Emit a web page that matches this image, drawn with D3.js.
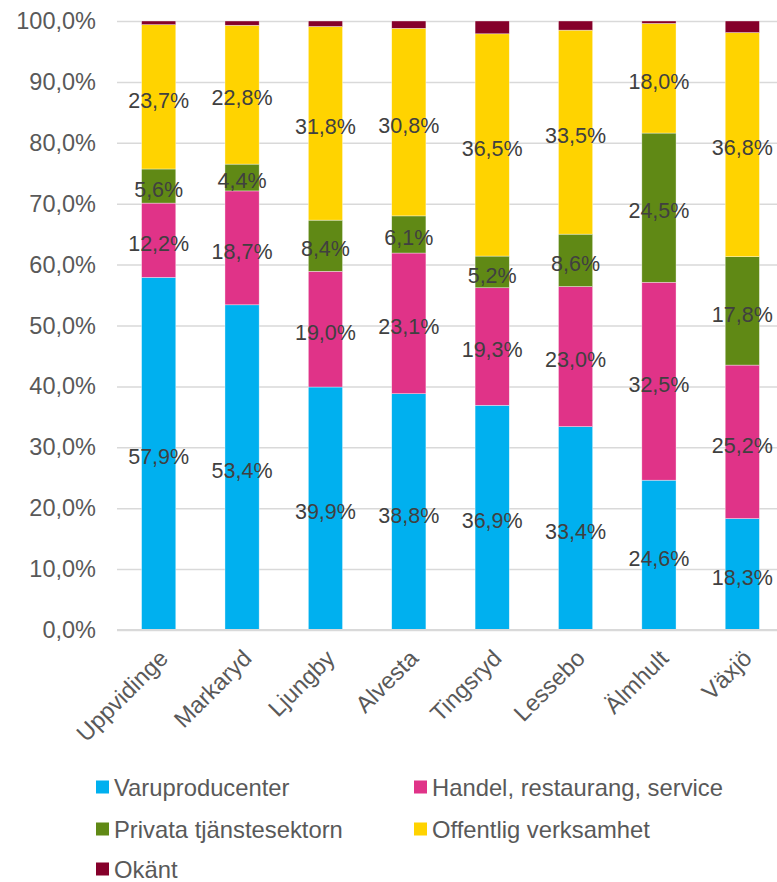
<!DOCTYPE html>
<html>
<head>
<meta charset="utf-8">
<script src="https://cdn.jsdelivr.net/npm/d3@7"></script>
<style>
  body { margin: 0; background: #fff; }
  svg text { font-family: "Liberation Sans", Arial, sans-serif; }
</style>
</head>
<body>
<div id="chart"></div>
<script>
// Data
var categories = ["Uppvidinge", "Markaryd", "Ljungby", "Alvesta", "Tingsryd", "Lessebo", "Älmhult", "Växjö"]
var seriesNames = ["Varuproducenter", "Handel, restaurang, service", "Privata tjänstesektorn", "Offentlig verksamhet", "Okänt"]
var varuproducenter = [57.9, 53.4, 39.9, 38.8, 36.9, 33.4, 24.6, 18.3]
var handel = [12.2, 18.7, 19.0, 23.1, 19.3, 23.0, 32.5, 25.2]
var privata = [5.6, 4.4, 8.4, 6.1, 5.2, 8.6, 24.5, 17.8]
var offentlig = [23.7, 22.8, 31.8, 30.8, 36.5, 33.5, 18.0, 36.8]
var okant = [0.6, 0.7, 0.9, 1.2, 2.1, 1.5, 0.4, 1.9]
var yTicks = [0, 10, 20, 30, 40, 50, 60, 70, 80, 90, 100]

var colors = ["#00b0ef", "#e03388", "#608915", "#ffd300", "#85002a"]
var showLabel = [true, true, true, true, false]

var width = 777
var height = 882
var plotLeft = 117
var plotRight = 784
var plotTop = 21
var plotBottom = 630

var sv = d3.formatLocale({ decimal: ",", thousands: " ", grouping: [3], currency: ["", " kr"] })
var pct = v => sv.format(".1f")(v) + "%"

var svg = d3.select("#chart")
  .append("svg")
  .attr("width", width)
  .attr("height", height)

// table for the stack
var table = categories.map((c, i) => ({
  cat: c,
  s0: varuproducenter[i],
  s1: handel[i],
  s2: privata[i],
  s3: offentlig[i],
  s4: okant[i]
}))
var stacked = d3.stack().keys(["s0", "s1", "s2", "s3", "s4"])(table)

// Scales
var xScale = d3.scaleBand()
  .domain(categories)
  .range([plotLeft, plotRight])
  .paddingInner(0.59)
  .paddingOuter(0.295)

var yScale = d3.scaleLinear()
  .domain([0, 100])
  .range([plotBottom, plotTop])

// Y grid
svg.append("g")
  .attr("class", "grid")
  .attr("transform", `translate(${plotLeft},0)`)
  .call(d3.axisLeft(yScale).tickValues(yTicks).tickSize(-(plotRight - plotLeft)).tickFormat(""))
  .call(g => g.select(".domain").remove())
  .selectAll("line")
  .style("stroke", "#d9d9d9")
  .style("stroke-width", 1.5)

// Y axis labels
svg.append("g")
  .attr("class", "y-axis")
  .attr("transform", `translate(${plotLeft},0)`)
  .call(d3.axisLeft(yScale).tickValues(yTicks).tickSize(0).tickPadding(21).tickFormat(pct))
  .call(g => g.select(".domain").remove())
  .selectAll("text")
  .style("font-size", "23.5px")
  .style("fill", "#595959")

// Bars
var layers = svg.append("g")
  .attr("class", "bars")
  .selectAll("g")
  .data(stacked)
  .enter()
  .append("g")
  .style("fill", (d, i) => colors[i])

layers.selectAll("rect")
  .data(d => d)
  .enter()
  .append("rect")
  .attr("x", d => xScale(d.data.cat))
  .attr("width", xScale.bandwidth())
  .attr("y", d => yScale(d[1]))
  .attr("height", d => yScale(d[0]) - yScale(d[1]))
  .style("stroke", "#ffffff")
  .style("stroke-opacity", 0.6)
  .style("stroke-width", 0.6)

// Baseline
svg.append("line")
  .attr("x1", plotLeft)
  .attr("x2", plotRight)
  .attr("y1", yScale(0))
  .attr("y2", yScale(0))
  .style("stroke", "#d9d9d9")
  .style("stroke-width", 2)

// Data labels
stacked.forEach((layer, i) => {
  if (!showLabel[i]) return
  svg.append("g")
    .attr("class", "labels")
    .selectAll("text")
    .data(layer)
    .enter()
    .append("text")
    .attr("x", d => xScale(d.data.cat) + xScale.bandwidth() / 2)
    .attr("y", d => yScale((d[0] + d[1]) / 2))
    .attr("dy", "0.5em")
    .attr("text-anchor", "middle")
    .style("font-size", "21.5px")
    .style("fill", "#404040")
    .text(d => pct(d[1] - d[0]))
})

// X axis labels (rotated)
svg.append("g")
  .attr("class", "x-axis")
  .selectAll("text")
  .data(categories)
  .enter()
  .append("text")
  .attr("transform", d => `translate(${xScale(d) + xScale.bandwidth() / 2 + 5},${plotBottom + 24}) rotate(-45)`)
  .attr("text-anchor", "end")
  .attr("dy", "0.35em")
  .style("font-size", "23.5px")
  .style("fill", "#595959")
  .text(d => d)

// Legend
var legendX = [96, 414]
var legendY = [787, 829, 869]
var legend = svg.append("g")
  .attr("class", "legend")
  .selectAll("g")
  .data(seriesNames)
  .enter()
  .append("g")
  .attr("transform", (d, i) => `translate(${legendX[i % 2]},${legendY[Math.floor(i / 2)]})`)

legend.append("rect")
  .attr("x", 0)
  .attr("y", -6.5)
  .attr("width", 13)
  .attr("height", 13)
  .style("fill", (d, i) => colors[i])

legend.append("text")
  .attr("x", 18)
  .attr("dy", "0.36em")
  .style("font-size", "23.8px")
  .style("fill", "#595959")
  .text(d => d)
</script>
</body>
</html>
